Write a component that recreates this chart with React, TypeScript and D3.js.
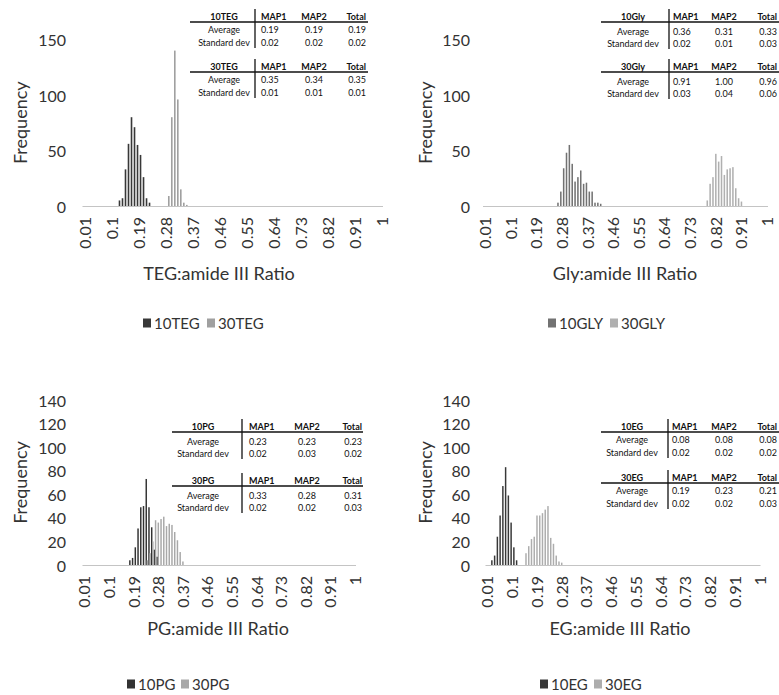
import * as d3 from "d3";
import React, { useEffect, useRef } from "react";

const W = 779;
const H = 695;
const FONT = "Lato, 'Open Sans', sans-serif";

// ratio bins 0.01 .. 1.00
const bins = d3.range(1, 101).map((i) => (i / 100).toFixed(2));
const tickLabels = ["0.01", "0.1", "0.19", "0.28", "0.37", "0.46", "0.55", "0.64", "0.73", "0.82", "0.91", "1"];

// histogram counts, first bin given by *_from
const teg10From = 0.13;
const teg10 = [5, 7, 33, 56, 80, 71, 55, 46, 26, 7, 3];
const teg30From = 0.29;
const teg30 = [9, 80, 140, 96, 15, 3, 1];

const gly10From = 0.27;
const gly10 = [3, 13, 34, 48, 55, 38, 22, 26, 32, 20, 21, 13, 13, 3, 3, 2];
const gly30From = 0.79;
const gly30 = [5, 20, 26, 47, 40, 45, 28, 33, 34, 35, 16, 7, 4];

const pg10From = 0.18;
const pg10 = [4, 6, 15, 31, 49, 50, 73, 49, 32, 13, 7];
const pg30From = 0.24;
const pg30 = [4, 10, 20, 38, 36, 39, 41, 33, 35, 34, 28, 21, 11, 3];

const eg10From = 0.03;
const eg10 = [4, 8, 24, 42, 67, 83, 59, 36, 15, 4];
const eg30From = 0.15;
const eg30 = [10, 16, 22, 24, 42, 42, 44, 47, 50, 23, 18, 8, 3, 2];

// summary tables
const tableCols = ["MAP1", "MAP2", "Total"];
const tableRows = ["Average", "Standard dev"];
const teg10Stats = [[0.19, 0.19, 0.19], [0.02, 0.02, 0.02]];
const teg30Stats = [[0.35, 0.34, 0.35], [0.01, 0.01, 0.01]];
const gly10Stats = [[0.36, 0.31, 0.33], [0.02, 0.01, 0.03]];
const gly30Stats = [[0.91, 1.0, 0.96], [0.03, 0.04, 0.06]];
const pg10Stats = [[0.23, 0.23, 0.23], [0.02, 0.03, 0.02]];
const pg30Stats = [[0.33, 0.28, 0.31], [0.02, 0.02, 0.03]];
const eg10Stats = [[0.08, 0.08, 0.08], [0.02, 0.02, 0.02]];
const eg30Stats = [[0.19, 0.23, 0.21], [0.02, 0.02, 0.03]];

const toMap = (from: number, counts: number[]) => {
  const m = new Map<string, number>();
  const start = Math.round(from * 100);
  counts.forEach((c, i) => m.set(((start + i) / 100).toFixed(2), c));
  return m;
};

const panels = [
  {
    names: ["10TEG", "30TEG"],
    series: [toMap(teg10From, teg10), toMap(teg30From, teg30)],
    tables: [["10TEG", teg10Stats], ["30TEG", teg30Stats]],
    title: "TEG:amide III Ratio",
    colors: ["#383838", "#a0a0a0"],
    x0: 82.5, x1: 383, yBase: 206, yTop: 39.5, yMax: 150, yStep: 50,
    yLabX: 66, freqX: 20, titleX: 219, titleY: 273, legX: 143, legY: 323, legGap: 64,
    tab: { cx: 224, vline: 255, lineL: 190, lineR: 368, map1: 261, map2: 314, totR: 366, y: [16, 66], dy: [13.5, 26] },
  },
  {
    names: ["10GLY", "30GLY"],
    series: [toMap(gly10From, gly10), toMap(gly30From, gly30)],
    tables: [["10Gly", gly10Stats], ["30Gly", gly30Stats]],
    title: "Gly:amide III Ratio",
    colors: ["#727272", "#b0b0b0"],
    x0: 483, x1: 768, yBase: 206, yTop: 39.5, yMax: 150, yStep: 50,
    yLabX: 470, freqX: 425, titleX: 625, titleY: 273, legX: 548, legY: 323, legGap: 62,
    tab: { cx: 633, vline: 669, lineL: 601, lineR: 779, map1: 673, map2: 724, totR: 777, y: [16, 66], dy: [15, 27] },
  },
  {
    names: ["10PG", "30PG"],
    series: [toMap(pg10From, pg10), toMap(pg30From, pg30)],
    tables: [["10PG", pg10Stats], ["30PG", pg30Stats]],
    title: "PG:amide III Ratio",
    colors: ["#333333", "#a8a8a8"],
    x0: 82.5, x1: 356, yBase: 565, yTop: 400, yMax: 140, yStep: 20,
    yLabX: 66, freqX: 20, titleX: 218, titleY: 628, legX: 127, legY: 684, legGap: 54,
    tab: { cx: 203, vline: 242, lineL: 172, lineR: 363, map1: 249, map2: 307, totR: 362, y: [426, 480], dy: [15, 27] },
  },
  {
    names: ["10EG", "30EG"],
    series: [toMap(eg10From, eg10), toMap(eg30From, eg30)],
    tables: [["10EG", eg10Stats], ["30EG", eg30Stats]],
    title: "EG:amide III Ratio",
    colors: ["#383838", "#adadad"],
    x0: 485.5, x1: 760.5, yBase: 565, yTop: 400, yMax: 140, yStep: 20,
    yLabX: 470, freqX: 425, titleX: 620, titleY: 628, legX: 540, legY: 684, legGap: 54,
    tab: { cx: 632, vline: 668, lineL: 601, lineR: 779, map1: 672, map2: 724, totR: 777, y: [426, 477], dy: [13.5, 26] },
  },
];

export default function App() {
  const ref = useRef<SVGSVGElement>(null);

  useEffect(() => {
    const svg = d3.select(ref.current);
    svg.selectAll("*").remove();

    panels.forEach((p: any) => {
      const g = svg.append("g").style("font-family", FONT);

      const x = d3.scaleBand().domain(bins).range([p.x0, p.x1]).paddingInner(0.05).paddingOuter(0.05);
      // slight overlap between the two series, like the original columns
      const xs = d3.scaleBand().domain(["0", "1"]).range([0, x.bandwidth()]).paddingInner(-0.3);
      const y = d3.scaleLinear().domain([0, p.yMax]).range([p.yBase, p.yTop]);

      // bars
      p.series.forEach((s: Map<string, number>, si: number) => {
        const rows = bins.filter((b) => s.has(b)).map((b) => ({ b, v: s.get(b) as number }));
        g.append("g")
          .selectAll("rect")
          .data(rows)
          .enter()
          .append("rect")
          .attr("x", (d) => (x(d.b) as number) + (xs(String(si)) as number))
          .attr("width", xs.bandwidth())
          .attr("y", (d) => y(d.v))
          .attr("height", (d) => p.yBase - y(d.v))
          .attr("fill", p.colors[si]);
      });

      // baseline
      g.append("line")
        .attr("x1", p.x0).attr("x2", p.x1)
        .attr("y1", p.yBase + 0.5).attr("y2", p.yBase + 0.5)
        .attr("stroke", "#c4c4c4").attr("stroke-width", 1.2);

      // y labels
      const yt = d3.range(0, p.yMax + 1, p.yStep);
      g.selectAll(".yl")
        .data(yt)
        .enter()
        .append("text")
        .attr("x", p.yLabX)
        .attr("y", (d) => y(d))
        .attr("text-anchor", "end")
        .attr("dominant-baseline", "central")
        .style("font-size", "16px")
        .attr("fill", "#333")
        .text((d) => d);

      // x labels rotated
      g.selectAll(".xl")
        .data(tickLabels)
        .enter()
        .append("text")
        .attr("transform", (d) => {
          const cx = (x((+d).toFixed(2)) as number) + x.bandwidth() / 2;
          return `translate(${cx},${p.yBase + 11}) rotate(-90)`;
        })
        .attr("text-anchor", "end")
        .attr("dominant-baseline", "central")
        .style("font-size", "16px")
        .attr("fill", "#333")
        .text((d) => d);

      // axis titles
      g.append("text")
        .attr("transform", `translate(${p.freqX},${(p.yBase + p.yTop) / 2}) rotate(-90)`)
        .attr("text-anchor", "middle")
        .attr("dominant-baseline", "central")
        .style("font-size", "18px")
        .attr("fill", "#333")
        .text("Frequency");
      g.append("text")
        .attr("x", p.titleX)
        .attr("y", p.titleY)
        .attr("text-anchor", "middle")
        .attr("dominant-baseline", "central")
        .style("font-size", "18px")
        .attr("fill", "#333")
        .text(p.title);

      // legend
      p.names.forEach((n: string, i: number) => {
        const lx = p.legX + i * p.legGap;
        g.append("rect")
          .attr("x", lx).attr("y", p.legY - 4.5)
          .attr("width", 8).attr("height", 9)
          .attr("fill", p.colors[i]);
        g.append("text")
          .attr("x", lx + 11)
          .attr("y", p.legY)
          .attr("dominant-baseline", "central")
          .style("font-size", "15px")
          .attr("fill", "#333")
          .text(n);
      });

      // stat tables
      const t = p.tab;
      p.tables.forEach((tb: any, ti: number) => {
        const [label, stats] = tb;
        const y0 = t.y[ti];
        const tg = g.append("g").style("font-size", "9px").attr("fill", "#111");
        const colX = [t.map1, t.map2, t.totR];
        const colAnchor = ["start", "middle", "end"];
        tg.append("text")
          .attr("x", t.cx).attr("y", y0)
          .attr("text-anchor", "middle").attr("dominant-baseline", "central")
          .style("font-weight", "bold")
          .text(label);
        tableCols.forEach((c, ci) => {
          tg.append("text")
            .attr("x", colX[ci]).attr("y", y0)
            .attr("text-anchor", colAnchor[ci]).attr("dominant-baseline", "central")
            .style("font-weight", "bold")
            .text(c);
        });
        tg.append("line")
          .attr("x1", t.lineL).attr("x2", t.lineR)
          .attr("y1", y0 + 6).attr("y2", y0 + 6)
          .attr("stroke", "#111").attr("stroke-width", 1.3);
        tg.append("line")
          .attr("x1", t.vline).attr("x2", t.vline)
          .attr("y1", y0 - 7).attr("y2", y0 + t.dy[1] + 6)
          .attr("stroke", "#111").attr("stroke-width", 1.3);
        tableRows.forEach((r, ri) => {
          const ry = y0 + t.dy[ri];
          tg.append("text")
            .attr("x", t.cx).attr("y", ry)
            .attr("text-anchor", "middle").attr("dominant-baseline", "central")
            .text(r);
          stats[ri].forEach((v: number, ci: number) => {
            tg.append("text")
              .attr("x", colX[ci]).attr("y", ry)
              .attr("text-anchor", colAnchor[ci]).attr("dominant-baseline", "central")
              .text(v.toFixed(2));
          });
        });
      });
    });
  }, []);

  return (
    <svg
      ref={ref}
      width={W}
      height={H}
      style={{ position: "absolute", left: 0, top: 0, background: "#fff" }}
    />
  );
}
